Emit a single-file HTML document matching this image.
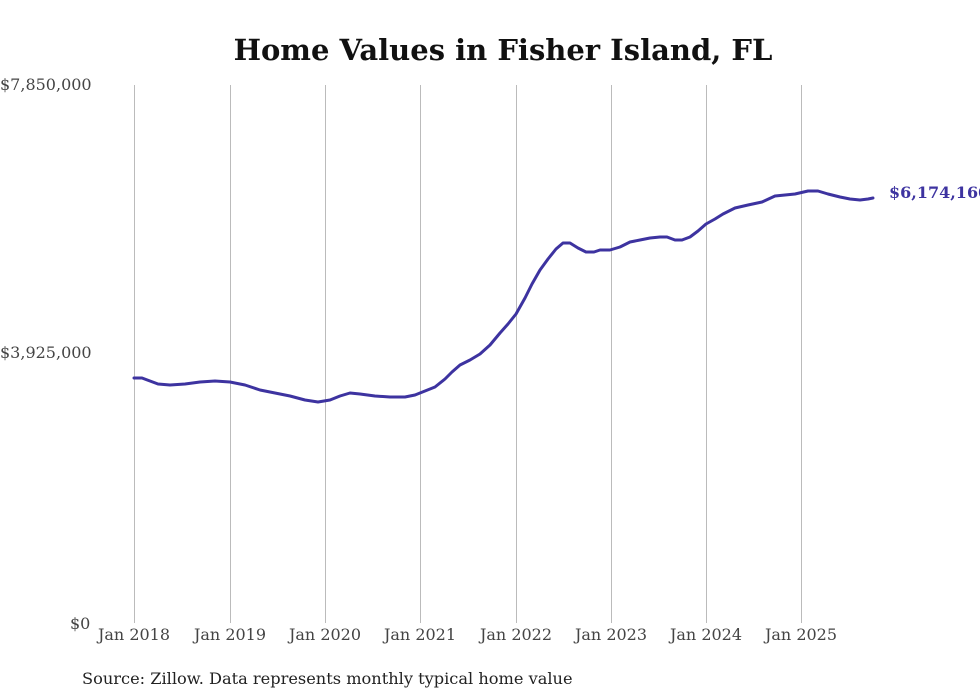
<!DOCTYPE html>
<html><head><meta charset="utf-8"><style>
html,body{margin:0;padding:0;background:#fff;}
svg{display:block;font-family:"DejaVu Serif","Liberation Serif",serif;}
</style></head><body>
<svg width="980" height="699" viewBox="0 0 980 699" xmlns="http://www.w3.org/2000/svg">
<rect width="980" height="699" fill="#fff"/>
<text x="503" y="60" text-anchor="middle" font-size="29" font-weight="bold" fill="#111">Home Values in Fisher Island, FL</text>
<g stroke="#bbb" stroke-width="1">
<line x1="134.5" y1="85" x2="134.5" y2="623"/>
<line x1="230.5" y1="85" x2="230.5" y2="623"/>
<line x1="325.5" y1="85" x2="325.5" y2="623"/>
<line x1="420.5" y1="85" x2="420.5" y2="623"/>
<line x1="516.5" y1="85" x2="516.5" y2="623"/>
<line x1="611.5" y1="85" x2="611.5" y2="623"/>
<line x1="706.5" y1="85" x2="706.5" y2="623"/>
<line x1="801.5" y1="85" x2="801.5" y2="623"/>
</g>
<g font-size="16" fill="#444">
<text x="0" y="90">$7,850,000</text>
<text x="0" y="358">$3,925,000</text>
<text x="70" y="629">$0</text>
</g>
<g font-size="16" fill="#444" text-anchor="middle">
<text x="134" y="640">Jan 2018</text>
<text x="230" y="640">Jan 2019</text>
<text x="325" y="640">Jan 2020</text>
<text x="420" y="640">Jan 2021</text>
<text x="516" y="640">Jan 2022</text>
<text x="611" y="640">Jan 2023</text>
<text x="706" y="640">Jan 2024</text>
<text x="801" y="640">Jan 2025</text>
</g>
<polyline fill="none" stroke="#3d33a0" stroke-width="3" stroke-linejoin="round" stroke-linecap="round"
points="134,378 142,378 150,381 158,384 170,385 185,384 200,382 215,381 230,382 245,385 260,390 275,393 290,396 305,400 318,402 330,400 340,396 350,393 360,394 375,396 390,397 405,397 415,395 425,391 435,387 445,379 452,372 460,365 470,360 480,354 490,345 500,333 508,324 516,314 525,298 532,284 540,270 548,259 556,249 563,243 570,243 578,248 586,252 594,252 600,250 610,250 620,247 630,242 640,240 650,238 660,237 667,237 675,240 682,240 690,237 698,231 706,224 715,219 723,214 735,208 748,205 762,202 775,196 785,195 795,194 808,191 818,191 828,194 840,197 850,199 860,200 868,199 873,198"/>
<text x="889" y="198" font-size="16" font-weight="bold" fill="#3d33a0">$6,174,160</text>
<text x="82" y="684" font-size="16.2" fill="#222">Source: Zillow. Data represents monthly typical home value</text>
</svg>
</body></html>
